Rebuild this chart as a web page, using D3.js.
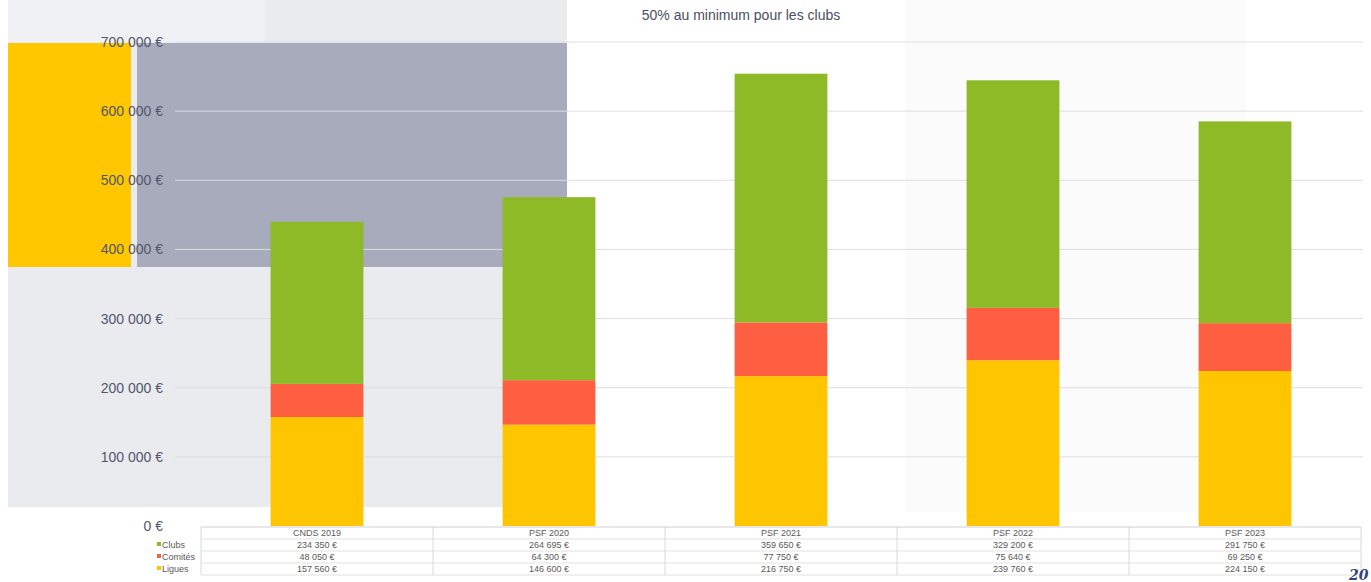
<!DOCTYPE html>
<meta charset="utf-8">
<script src="https://d3js.org/d3.v7.min.js"></script>
<style>
  body { margin: 0; background: #fff; }
  text { font-family: "Liberation Sans", Arial, sans-serif; }
</style>
<div id="my_chart"><svg></svg></div>
<script>
// data
var categories = ["CNDS 2019", "PSF 2020", "PSF 2021", "PSF 2022", "PSF 2023"];
var seriesNames = ["Clubs", "Comités", "Ligues"];
var clubs   = [234350, 264695, 359650, 329200, 291750];
var comites = [48050, 64300, 77750, 75640, 69250];
var ligues  = [157560, 146600, 216750, 239760, 224150];
var yTicks  = [0, 100000, 200000, 300000, 400000, 500000, 600000, 700000];
var title   = "50% au minimum pour les clubs";

var colors = {"Clubs": "#8fba27", "Comités": "#fe5f40", "Ligues": "#ffc600"};

var W = 1371, H = 582;
var svg = d3.select("#my_chart").select("svg")
    .attr("width", W)
    .attr("height", H);

// french style money format
var fr = d3.formatLocale({decimal: ",", thousands: "\u00a0", grouping: [3], currency: ["", "\u00a0€"]});
var money = fr.format("$,");

// background blocks of the slide behind the chart
var bg = svg.append("g");
bg.append("rect").attr("x", 905).attr("y", 0).attr("width", 340).attr("height", 512).attr("fill", "#fbfbfc");
bg.append("rect").attr("x", 8).attr("y", 0).attr("width", 559).attr("height", 507).attr("fill", "#e9ebef");
bg.append("rect").attr("x", 8).attr("y", 0).attr("width", 257).attr("height", 42).attr("fill", "#eff1f4");
bg.append("rect").attr("x", 137).attr("y", 43).attr("width", 430).attr("height", 224).attr("fill", "#a7abbb");
bg.append("rect").attr("x", 8).attr("y", 43).attr("width", 123).attr("height", 224).attr("fill", "#ffc700");

// scales
var x = d3.scaleBand()
    .domain(categories)
    .range([201, 1361])
    .paddingInner(0.6)
    .paddingOuter(0.3);

var y = d3.scaleLinear()
    .domain([0, 700000])
    .range([526, 42]);

// grid lines
svg.append("g")
    .selectAll("line")
    .data(yTicks.filter(function(d) { return d > 0; }))
    .enter().append("line")
    .attr("x1", 175).attr("x2", 1363)
    .attr("y1", function(d) { return y(d); })
    .attr("y2", function(d) { return y(d); })
    .attr("stroke", "#dcdee3")
    .attr("stroke-width", 1);

// Y axis
var yAxis = svg.append("g")
    .attr("transform", "translate(170,0)")
    .call(d3.axisLeft(y).tickValues(yTicks).tickFormat(money).tickSize(0).tickPadding(7));
yAxis.select(".domain").remove();
yAxis.selectAll("text")
    .style("font-family", "'Liberation Sans', Arial, sans-serif")
    .style("font-size", "14px")
    .attr("fill", "#51566e");

// stacked bars
var rows = categories.map(function(c, i) {
    return {cat: c, "Ligues": ligues[i], "Comités": comites[i], "Clubs": clubs[i]};
});
var stack = d3.stack().keys(["Ligues", "Comités", "Clubs"])(rows);

svg.append("g")
    .selectAll("g")
    .data(stack)
    .enter().append("g")
    .attr("fill", function(d) { return colors[d.key]; })
    .selectAll("rect")
    .data(function(d) { return d; })
    .enter().append("rect")
    .attr("x", function(d) { return x(d.data.cat); })
    .attr("y", function(d) { return y(d[1]); })
    .attr("height", function(d) { return y(d[0]) - y(d[1]); })
    .attr("width", x.bandwidth());

// title
svg.append("text")
    .attr("x", 741)
    .attr("y", 20)
    .attr("text-anchor", "middle")
    .style("font-size", "14px")
    .attr("fill", "#4a4f60")
    .text(title);

// data table under the chart
var step = x.step();
var left = x.range()[0];
var tTop = 527, rowH = 12;
var table = svg.append("g");
var tableData = [clubs, comites, ligues];

// horizontal lines
d3.range(5).forEach(function(i) {
    table.append("line")
        .attr("x1", left).attr("x2", left + step * categories.length)
        .attr("y1", tTop + i * rowH).attr("y2", tTop + i * rowH)
        .attr("stroke", i === 0 ? "#d0d0d0" : "#e2e2e2");
});
// vertical lines
d3.range(categories.length + 1).forEach(function(i) {
    table.append("line")
        .attr("x1", left + i * step).attr("x2", left + i * step)
        .attr("y1", tTop).attr("y2", tTop + 4 * rowH)
        .attr("stroke", "#d8d8d8");
});

// header row
table.selectAll(".hdr")
    .data(categories)
    .enter().append("text")
    .attr("class", "hdr")
    .attr("x", function(d) { return x(d) + x.bandwidth() / 2; })
    .attr("y", tTop + rowH / 2 + 3)
    .attr("text-anchor", "middle")
    .style("font-size", "9px")
    .attr("fill", "#5a5a5a")
    .text(function(d) { return d; });

// value rows
tableData.forEach(function(vals, r) {
    var yy = tTop + (r + 1) * rowH + rowH / 2 + 3;
    table.selectAll(".v" + r)
        .data(vals)
        .enter().append("text")
        .attr("x", function(d, i) { return x(categories[i]) + x.bandwidth() / 2; })
        .attr("y", yy)
        .attr("text-anchor", "middle")
        .style("font-size", "9px")
        .attr("fill", "#5a5a5a")
        .text(function(d) { return money(d); });

    // row label with legend marker
    table.append("rect")
        .attr("x", 157).attr("y", yy - 6)
        .attr("width", 4).attr("height", 4)
        .attr("fill", colors[seriesNames[r]]);
    table.append("text")
        .attr("x", 162).attr("y", yy)
        .style("font-size", "9px")
        .attr("fill", "#5a5a5a")
        .text(seriesNames[r]);
});

// slide page number
svg.append("text")
    .attr("x", 1349)
    .attr("y", 580)
    .style("font-family", "'DejaVu Serif', serif")
    .style("font-style", "italic")
    .style("font-weight", "bold")
    .style("font-size", "14px")
    .attr("fill", "#34427a")
    .text("20");
</script>
